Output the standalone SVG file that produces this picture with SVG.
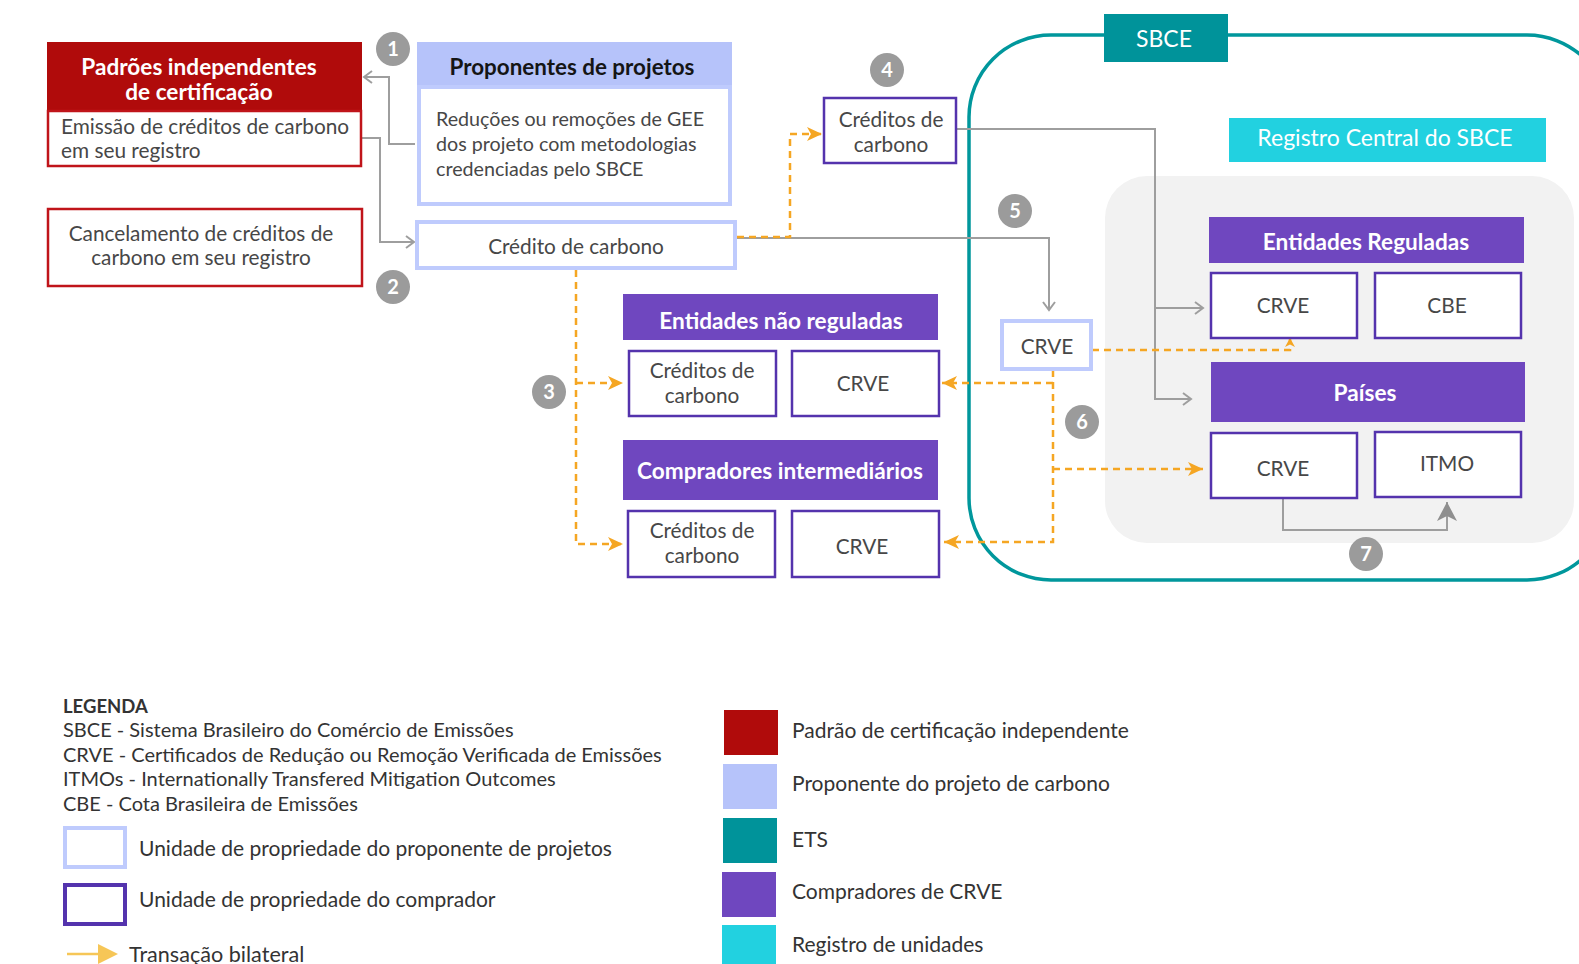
<svg xmlns="http://www.w3.org/2000/svg" width="1579" height="964" viewBox="0 0 1579 964">
  <style>
    text { font-family: Lato, "Noto Sans", "Liberation Sans", sans-serif; }
    .t { font-size: 20.8px; fill: #474747; }
    .c { text-anchor: middle; }
    .hw { font-size: 22.6px; font-weight: 700; fill: #ffffff; text-anchor: middle; }
    .hk { font-size: 22.4px; font-weight: 700; fill: #151515; text-anchor: middle; }
    .num { font-size: 20px; font-weight: 700; fill: #ffffff; text-anchor: middle; }
    .lg { font-size: 20px; fill: #333333; }
    .lb { font-size: 21px; fill: #333333; }
    .buy { fill: #ffffff; stroke: #5433ad; stroke-width: 2.5; }
    .prop { fill: #ffffff; stroke: #bfcbfd; stroke-width: 4; }
    .redb { fill: #ffffff; stroke: #c0141a; stroke-width: 2.5; }
    .purple { fill: #6f47bf; }
    .gl { fill: none; stroke: #9e9e9e; stroke-width: 2; }
    .ol { fill: none; stroke: #f5a623; stroke-width: 2.5; stroke-dasharray: 7 5; }
    .badge { fill: #9b9b9b; }
  </style>
  <defs>
    <marker id="chev" markerUnits="userSpaceOnUse" markerWidth="12" markerHeight="14" refX="10" refY="7" orient="auto">
      <path d="M2,1 L10,7 L2,13" fill="none" stroke="#9e9e9e" stroke-width="2"/>
    </marker>
    <marker id="oarr" markerUnits="userSpaceOnUse" markerWidth="16" markerHeight="16" refX="15" refY="8" orient="auto">
      <path d="M0,1 L15,8 L0,15 L4,8 Z" fill="#f5a623"/>
    </marker>
    <marker id="oarrs" markerUnits="userSpaceOnUse" markerWidth="10" markerHeight="10" refX="9" refY="5" orient="auto">
      <path d="M0,0 L9,5 L0,10 L2.5,5 Z" fill="#f5a623"/>
    </marker>
    <marker id="garr" markerUnits="userSpaceOnUse" markerWidth="20" markerHeight="22" refX="19" refY="11" orient="auto">
      <path d="M0,1 L19,11 L0,21 L5,11 Z" fill="#8f8f8f"/>
    </marker>
  </defs>

  <!-- SBCE boundary and central registry area -->
  <g id="sbce-frame">
    <rect x="969" y="35" width="640" height="545" rx="82" ry="82" fill="none" stroke="#00979c" stroke-width="3.5"/>
    <rect x="1105" y="176" width="469" height="367" rx="42" ry="42" fill="#f2f2f2"/>
  </g>

  <!-- connectors -->
  <g id="connectors">
    <path class="gl" d="M415,144 H389 V77 H364" marker-end="url(#chev)"/>
    <path class="gl" d="M362,138 H380 V242 H414" marker-end="url(#chev)"/>
    <path class="gl" d="M737,238 H1049 V310" marker-end="url(#chev)"/>
    <path class="gl" d="M957,129 H1155 V399 H1191" marker-end="url(#chev)"/>
    <path class="gl" d="M1155,308 H1203" marker-end="url(#chev)"/>
    <path class="gl" d="M1283,499 V530 H1447 V502" stroke="#8f8f8f" stroke-width="2.5" marker-end="url(#garr)"/>
    <path class="ol" d="M737,237 H790 V134 H822" marker-end="url(#oarr)"/>
    <path class="ol" d="M576,270 V544 H623" marker-end="url(#oarr)"/>
    <path class="ol" d="M576,383 H623" marker-end="url(#oarr)"/>
    <path class="ol" d="M1092,350 H1290 V338" marker-end="url(#oarrs)"/>
    <path class="ol" d="M1053,370 V542 H944" marker-end="url(#oarr)"/>
    <path class="ol" d="M1053,383 H942" marker-end="url(#oarr)"/>
    <path class="ol" d="M1053,469 H1203" marker-end="url(#oarr)"/>
  </g>

  <!-- independent certification standards -->
  <g id="padroes">
    <rect x="47" y="42" width="315" height="69" fill="#b00b0b"/>
    <text class="hw" x="199" y="75">Padrões independentes</text>
    <text class="hw" x="199" y="100">de certificação</text>
  </g>
  <g id="emissao">
    <rect class="redb" x="48" y="111" width="313" height="55"/>
    <text class="t" x="61" y="134">Emissão de créditos de carbono</text>
    <text class="t" x="61" y="158">em seu registro</text>
  </g>
  <g id="cancelamento">
    <rect class="redb" x="48" y="209" width="314" height="77"/>
    <text class="t c" x="201" y="241">Cancelamento de créditos de</text>
    <text class="t c" x="201" y="265">carbono em seu registro</text>
  </g>

  <!-- project proponents -->
  <g id="proponentes">
    <rect x="417" y="42" width="315" height="45" fill="#b6c3fa"/>
    <text class="hk" x="572" y="75">Proponentes de projetos</text>
    <rect class="prop" x="419" y="87" width="311" height="117"/>
    <text class="t" x="436" y="126" style="font-size:19.7px">Reduções ou remoções de GEE</text>
    <text class="t" x="436" y="151" style="font-size:19.7px">dos projeto com metodologias</text>
    <text class="t" x="436" y="176" style="font-size:19.7px">credenciadas pelo SBCE</text>
  </g>
  <g id="credito">
    <rect class="prop" x="417" y="222" width="318" height="46"/>
    <text class="t c" x="576" y="254">Crédito de carbono</text>
  </g>
  <g id="creditos-4">
    <rect class="buy" x="824" y="98" width="132" height="65"/>
    <text class="t c" x="891" y="127">Créditos de</text>
    <text class="t c" x="891" y="152">carbono</text>
  </g>

  <!-- non-regulated entities -->
  <g id="nao-reguladas">
    <rect class="purple" x="623" y="294" width="315" height="46"/>
    <text class="hw" x="781" y="329">Entidades não reguladas</text>
  </g>
  <g id="nr-creditos">
    <rect class="buy" x="629" y="351" width="147" height="65"/>
    <text class="t c" x="702" y="378">Créditos de</text>
    <text class="t c" x="702" y="403">carbono</text>
  </g>
  <g id="nr-crve">
    <rect class="buy" x="792" y="351" width="147" height="65"/>
    <text class="t c" x="863" y="391">CRVE</text>
  </g>

  <!-- intermediary buyers -->
  <g id="intermediarios">
    <rect class="purple" x="623" y="440" width="315" height="60"/>
    <text class="hw" x="780" y="479">Compradores intermediários</text>
  </g>
  <g id="ci-creditos">
    <rect class="buy" x="628" y="511" width="147" height="66"/>
    <text class="t c" x="702" y="538">Créditos de</text>
    <text class="t c" x="702" y="563">carbono</text>
  </g>
  <g id="ci-crve">
    <rect class="buy" x="792" y="511" width="147" height="66"/>
    <text class="t c" x="862" y="554">CRVE</text>
  </g>

  <!-- SBCE -->
  <g id="sbce-tab">
    <rect x="1104" y="14" width="124" height="48" fill="#00939a"/>
    <text x="1164" y="47" font-size="23" fill="#ffffff" text-anchor="middle">SBCE</text>
  </g>
  <g id="crve-proponente">
    <rect class="prop" x="1002" y="321" width="89" height="48"/>
    <text class="t c" x="1047" y="354">CRVE</text>
  </g>
  <g id="registro-central">
    <rect x="1229" y="118" width="317" height="44" fill="#22d1e0"/>
    <text x="1385" y="146" font-size="23" fill="#ffffff" text-anchor="middle">Registro Central do SBCE</text>
  </g>
  <g id="reguladas">
    <rect class="purple" x="1209" y="217" width="315" height="46"/>
    <text class="hw" x="1366" y="250">Entidades Reguladas</text>
  </g>
  <g id="er-crve">
    <rect class="buy" x="1211" y="273" width="146" height="65"/>
    <text class="t c" x="1283" y="313">CRVE</text>
  </g>
  <g id="er-cbe">
    <rect class="buy" x="1375" y="273" width="146" height="65"/>
    <text class="t c" x="1447" y="313">CBE</text>
  </g>
  <g id="paises">
    <rect class="purple" x="1211" y="362" width="314" height="60"/>
    <text class="hw" x="1365" y="401">Países</text>
  </g>
  <g id="p-crve">
    <rect class="buy" x="1211" y="433" width="146" height="65"/>
    <text class="t c" x="1283" y="476">CRVE</text>
  </g>
  <g id="p-itmo">
    <rect class="buy" x="1375" y="432" width="146" height="65"/>
    <text class="t c" x="1447" y="471">ITMO</text>
  </g>

  <!-- step badges -->
  <g id="badge-1"><circle class="badge" cx="393" cy="49" r="17"/><text class="num" x="393" y="56">1</text></g>
  <g id="badge-2"><circle class="badge" cx="393" cy="287" r="17"/><text class="num" x="393" y="294">2</text></g>
  <g id="badge-3"><circle class="badge" cx="549" cy="392" r="17"/><text class="num" x="549" y="399">3</text></g>
  <g id="badge-4"><circle class="badge" cx="887" cy="70" r="17"/><text class="num" x="887" y="77">4</text></g>
  <g id="badge-5"><circle class="badge" cx="1015" cy="211" r="17"/><text class="num" x="1015" y="218">5</text></g>
  <g id="badge-6"><circle class="badge" cx="1082" cy="422" r="17"/><text class="num" x="1082" y="429">6</text></g>
  <g id="badge-7"><circle class="badge" cx="1366" cy="554" r="17"/><text class="num" x="1366" y="561">7</text></g>

  <!-- legend -->
  <g id="legend-abbrev">
    <text x="63" y="713" font-size="18.5" font-weight="700" fill="#333333">LEGENDA</text>
    <text class="lg" x="63" y="737">SBCE - Sistema Brasileiro do Comércio de Emissões</text>
    <text class="lg" x="63" y="762">CRVE - Certificados de Redução ou Remoção Verificada de Emissões</text>
    <text class="lg" x="63" y="786">ITMOs - Internationally Transfered Mitigation Outcomes</text>
    <text class="lg" x="63" y="811">CBE - Cota Brasileira de Emissões</text>
  </g>
  <g id="legend-boxes">
    <rect x="65" y="828" width="60" height="39" fill="#ffffff" stroke="#bfcbfd" stroke-width="4"/>
    <text class="lb" x="139" y="856">Unidade de propriedade do proponente de projetos</text>
    <rect x="65" y="885" width="60" height="39" fill="#ffffff" stroke="#5433ad" stroke-width="4"/>
    <text class="lb" x="139" y="907">Unidade de propriedade do comprador</text>
    <line x1="67" y1="954" x2="98" y2="954" stroke="#f6c657" stroke-width="2.5"/>
    <path d="M98,944 L118,954 L98,964 Z" fill="#f6c657"/>
    <text class="lb" x="129" y="962" style="font-size:21.6px">Transação bilateral</text>
  </g>
  <g id="legend-colors">
    <rect x="724" y="710" width="54" height="45" fill="#b00b0b"/>
    <text class="lb" x="792" y="738">Padrão de certificação independente</text>
    <rect x="723" y="764" width="54" height="45" fill="#b6c3fa"/>
    <text class="lb" x="792" y="791">Proponente do projeto de carbono</text>
    <rect x="723" y="818" width="54" height="45" fill="#00939a"/>
    <text class="lb" x="792" y="847">ETS</text>
    <rect x="722" y="872" width="54" height="45" fill="#6f47bf"/>
    <text class="lb" x="792" y="899">Compradores de CRVE</text>
    <rect x="722" y="925" width="54" height="39" fill="#22d1e0"/>
    <text class="lb" x="792" y="952">Registro de unidades</text>
  </g>
</svg>
